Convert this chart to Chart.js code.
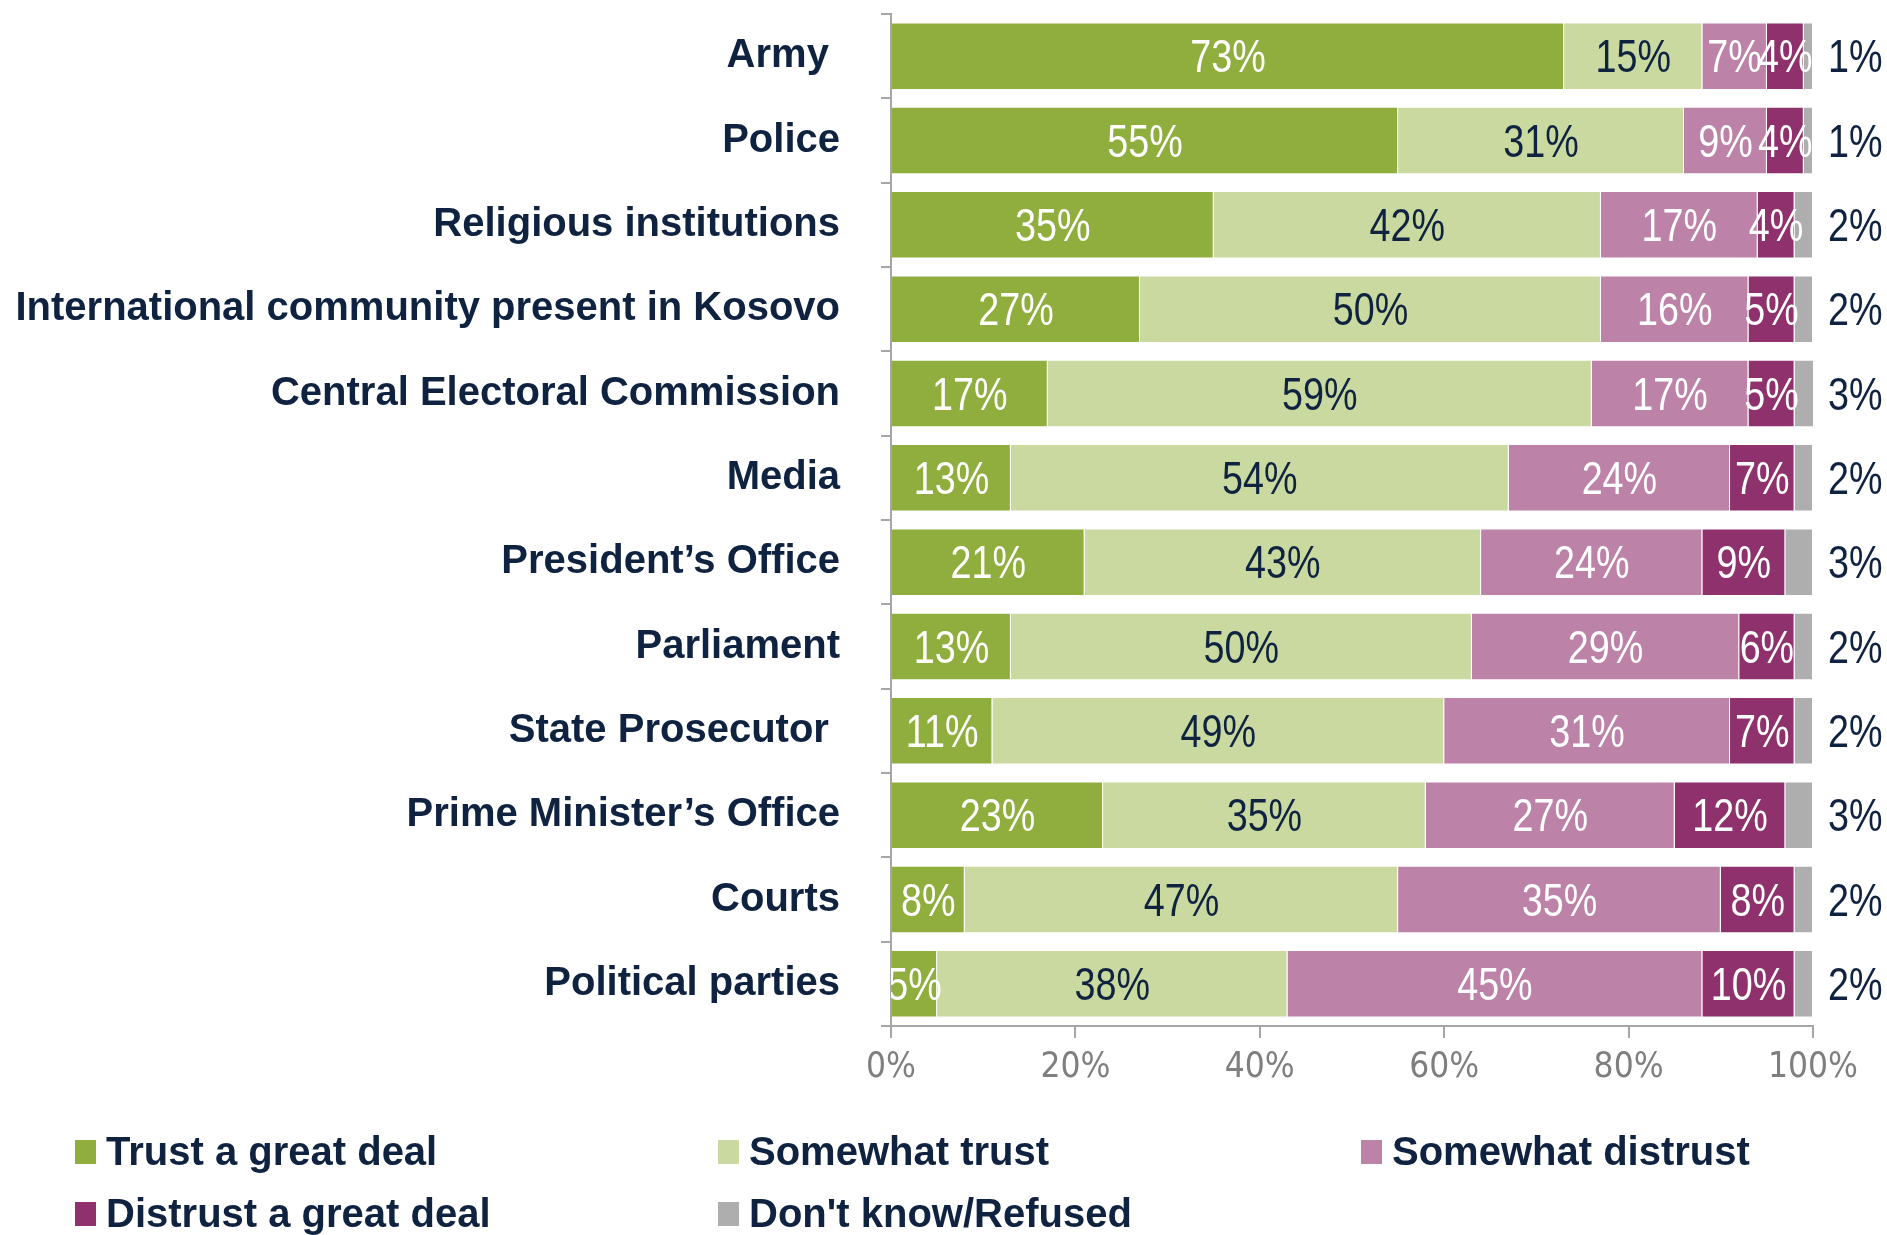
<!DOCTYPE html>
<html>
<head>
<meta charset="utf-8">
<title>Trust in institutions</title>
<script src="https://cdn.jsdelivr.net/npm/chart.js@4.4.1/dist/chart.umd.min.js"></script>
<style>
  html, body { margin: 0; padding: 0; background: #ffffff; }
  #wrap { width: 1887px; height: 1235px; }
</style>
</head>
<body>
<div id="wrap"><canvas id="trustChart" width="1887" height="1235"></canvas></div>
<script>
// values (percent of respondents)
const categories = ['Army ', 'Police', 'Religious institutions', 'International community present in Kosovo',
  'Central Electoral Commission', 'Media', 'President\u2019s Office', 'Parliament', 'State Prosecutor ',
  'Prime Minister\u2019s Office', 'Courts', 'Political parties'];
const trustGreatDeal    = [73, 55, 35, 27, 17, 13, 21, 13, 11, 23, 8, 5];
const somewhatTrust     = [15, 31, 42, 50, 59, 54, 43, 50, 49, 35, 47, 38];
const somewhatDistrust  = [7, 9, 17, 16, 17, 24, 24, 29, 31, 27, 35, 45];
const distrustGreatDeal = [4, 4, 4, 5, 5, 7, 9, 6, 7, 12, 8, 10];
const dontKnow          = [1, 1, 2, 2, 3, 2, 3, 2, 2, 3, 2, 2];
const seriesNames = ['Trust a great deal', 'Somewhat trust', 'Somewhat distrust', 'Distrust a great deal', "Don't know/Refused"];
const xTicks = [0, 20, 40, 60, 80, 100];

const NAVY = '#0F2341';
const AXIS = '#A6A6A6';
const colors = ['#8FAE3E', '#C9D9A0', '#BC82A8', '#8E316D', '#AEAEAE'];
const labelColors = ['#FFFFFF', NAVY, '#FFFFFF', '#FFFFFF', NAVY];
const seriesData = [trustGreatDeal, somewhatTrust, somewhatDistrust, distrustGreatDeal, dontKnow];

// percentage labels inside the segments (grey one goes outside on the right)
const segmentLabels = {
  id: 'segmentLabels',
  afterDatasetsDraw(chart) {
    const ctx = chart.ctx;
    const area = chart.chartArea;
    chart.data.datasets.forEach((ds, di) => {
      const meta = chart.getDatasetMeta(di);
      meta.data.forEach((bar, i) => {
        const text = ds.data[i] + '%';
        const outside = di === 4;
        const x = outside ? area.right + 15 : (bar.x + bar.base) / 2;
        ctx.save();
        if (!outside) {
          ctx.beginPath();
          ctx.rect(area.left, 0, chart.width, chart.height);
          ctx.clip();
        }
        ctx.font = '46px "Liberation Sans", Arial, sans-serif';
        ctx.fillStyle = ds.labelColor;
        ctx.textBaseline = 'alphabetic';
        ctx.textAlign = outside ? 'left' : 'center';
        ctx.translate(x, bar.y + 16);
        ctx.scale(0.82, 1);
        ctx.fillText(text, 0, 0);
        ctx.restore();
      });
    });
  }
};

// three-column legend under the axis
const gridLegend = {
  id: 'gridLegend',
  afterDraw(chart) {
    const ctx = chart.ctx;
    const cols = [75, 718, 1361];
    const rows = [1140, 1202];
    ctx.save();
    chart.data.datasets.forEach((ds, i) => {
      const x = cols[i % 3];
      const y = rows[Math.floor(i / 3)];
      ctx.fillStyle = ds.backgroundColor;
      ctx.fillRect(x, y, 21, 24);
      ctx.font = 'bold 40px "Liberation Sans", Arial, sans-serif';
      ctx.fillStyle = NAVY;
      ctx.textAlign = 'left';
      ctx.textBaseline = 'alphabetic';
      ctx.fillText(ds.label, x + 31, y + 25);
    });
    ctx.restore();
  }
};

const datasets = seriesNames.map((name, k) => ({
  label: name,
  data: seriesData[k],
  backgroundColor: colors[k],
  borderColor: '#FFFFFF',
  borderWidth: 1,
  labelColor: labelColors[k],
  categoryPercentage: 1,
  barPercentage: 0.8
}));

new Chart(document.getElementById('trustChart'), {
  type: 'bar',
  data: { labels: categories, datasets: datasets },
  plugins: [segmentLabels, gridLegend],
  options: {
    indexAxis: 'y',
    responsive: false,
    animation: false,
    devicePixelRatio: 1,
    layout: { padding: { top: 14, right: 74, bottom: 139, left: 0 } },
    plugins: { legend: { display: false }, tooltip: { enabled: false } },
    scales: {
      x: {
        stacked: true,
        min: 0,
        max: 100,
        afterBuildTicks: (scale) => { scale.ticks = xTicks.map(v => ({ value: v })); },
        afterFit: (scale) => { scale.height = 70; },
        grid: { drawOnChartArea: false, tickLength: 12, color: AXIS, lineWidth: 2 },
        border: { display: true, color: AXIS, width: 2 },
        ticks: {
          padding: 9,
          color: '#7F7F7F',
          font: { family: "'Liberation Sans Narrow', 'DejaVu Sans Condensed', sans-serif", size: 35 },
          callback: (v) => v + '%'
        }
      },
      y: {
        stacked: true,
        afterFit: (scale) => { scale.width = 891; scale.paddingTop = 0; scale.paddingBottom = 0; },
        grid: { drawOnChartArea: false, offset: true, tickLength: 10, color: AXIS, lineWidth: 2 },
        border: { display: true, color: AXIS, width: 2 },
        ticks: {
          padding: 41,
          color: NAVY,
          font: { family: "'Liberation Sans', Arial, sans-serif", size: 40, weight: 'bold' }
        }
      }
    }
  }
});
</script>
</body>
</html>
